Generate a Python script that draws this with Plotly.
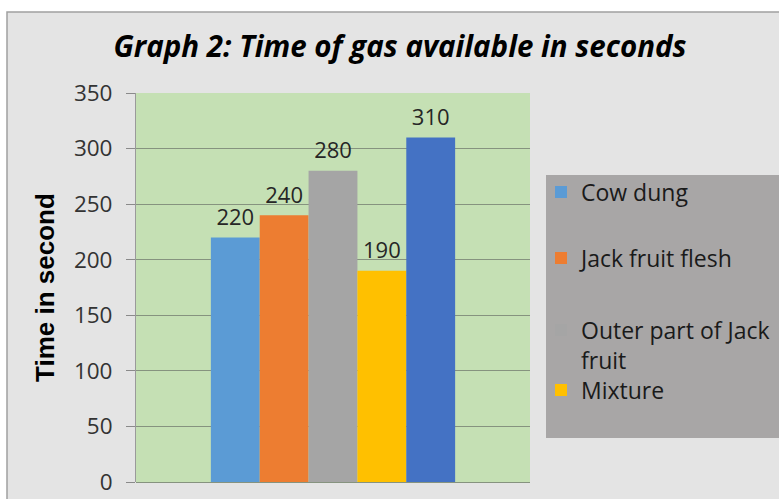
import plotly.graph_objects as go

categories = ["Time"]
series_names = ["Cow dung", "Jack fruit flesh", "Outer part of Jack<br>fruit", "Mixture", "Series 5"]
series_values = [220, 240, 280, 190, 310]
series_colors = ["#5b9bd5", "#ed7d31", "#a5a5a5", "#ffc000", "#4472c4"]
show_in_legend = [True, True, True, True, False]
y_ticks = [0, 50, 100, 150, 200, 250, 300, 350]

W, H = 779, 499
L, R, T, B = 136, 530, 93, 482

def px_x(p):
    return (p - L) / (R - L)

def px_y(p):
    return (B - p) / (B - T)

legend_ids = ["legend", "legend2", "legend3", "legend4", "legend"]
legend_centers = [192, 258, 345, 390]

fig = go.Figure()
for i, (name, val, col, sl) in enumerate(zip(series_names, series_values, series_colors, show_in_legend)):
    fig.add_trace(go.Bar(
        x=categories, y=[val], name=name,
        marker=dict(color=col, line=dict(width=0)),
        offsetgroup=str(i), showlegend=sl, legend=legend_ids[i],
        hoverinfo="skip",
    ))
for i, val in enumerate(series_values):
    fig.add_trace(go.Scatter(
        x=categories, y=[val], mode="markers+text",
        marker=dict(size=10, opacity=0),
        text=[str(val)], textposition="top center",
        textfont=dict(family="Open Sans", size=22, color="#262626"),
        offsetgroup=str(i), showlegend=False, cliponaxis=False, hoverinfo="skip",
    ))

legend_common = dict(xanchor="left", yanchor="middle", bgcolor="rgba(0,0,0,0)",
                     borderwidth=0, itemwidth=30, valign="top",
                     font=dict(family="Open Sans", size=23, color="#1a1a1a"))
legends = {}
for k, (lid, cy) in enumerate(zip(legend_ids[:4], legend_centers)):
    legends[lid] = dict(x=px_x(541), y=px_y(cy), **legend_common)

fig.update_layout(
    width=W, height=H,
    margin=dict(l=L, r=W - R, t=T, b=H - B, autoexpand=False),
    paper_bgcolor="#ffffff",
    plot_bgcolor="#c5e0b4",
    barmode="group", bargap=0.38, bargroupgap=0,
    scattermode="group", scattergap=0.38,
    title=dict(text="<b><i>Graph 2: Time of gas available in seconds</i></b>",
               x=px_x(400), xref="paper", xanchor="center",
               y=1 - 47 / H, yanchor="middle",
               font=dict(family="Open Sans", size=29.5, color="#000000")),
    showlegend=True,
    xaxis=dict(showticklabels=False, showgrid=False, zeroline=False,
               showline=False, ticks="", fixedrange=True),
    yaxis=dict(range=[0, 350], tickvals=y_ticks, ticktext=[str(v) for v in y_ticks],
               showgrid=True, gridcolor="#86937f", gridwidth=1,
               zeroline=True, zerolinecolor="#86937f", zerolinewidth=1,
               showline=True, linecolor="#9a9a9a", linewidth=1,
               ticks="outside", ticklen=9, tickcolor="#8a8a8a",
               ticklabelstandoff=9,
               tickfont=dict(family="Open Sans", size=22.5, color="#333333")),
    annotations=[dict(text="<b>Time in second</b>", xref="paper", yref="paper",
                      x=px_x(45), y=px_y(288), xanchor="center", yanchor="middle",
                      textangle=-90, showarrow=False,
                      font=dict(family="Liberation Sans", size=26, color="#000000"))],
    shapes=[
        dict(type="rect", xref="paper", yref="paper", layer="below",
             x0=px_x(7), x1=px_x(800), y0=px_y(520), y1=px_y(12),
             fillcolor="#e4e4e4", line=dict(color="#a0a0a0", width=1.5)),
        dict(type="rect", xref="paper", yref="paper", layer="below",
             x0=0, x1=1, y0=0, y1=1,
             fillcolor="#c5e0b4", line=dict(width=0)),
        dict(type="rect", xref="paper", yref="paper", layer="above",
             x0=px_x(546), x1=px_x(800), y0=px_y(438), y1=px_y(175),
             fillcolor="#a8a6a6", line=dict(width=0)),
    ],
    **legends,
)

fig.write_html("out.html",
               config={"displayModeBar": False},
               post_script="document.body.style.margin='0';document.body.style.overflow='hidden';")
